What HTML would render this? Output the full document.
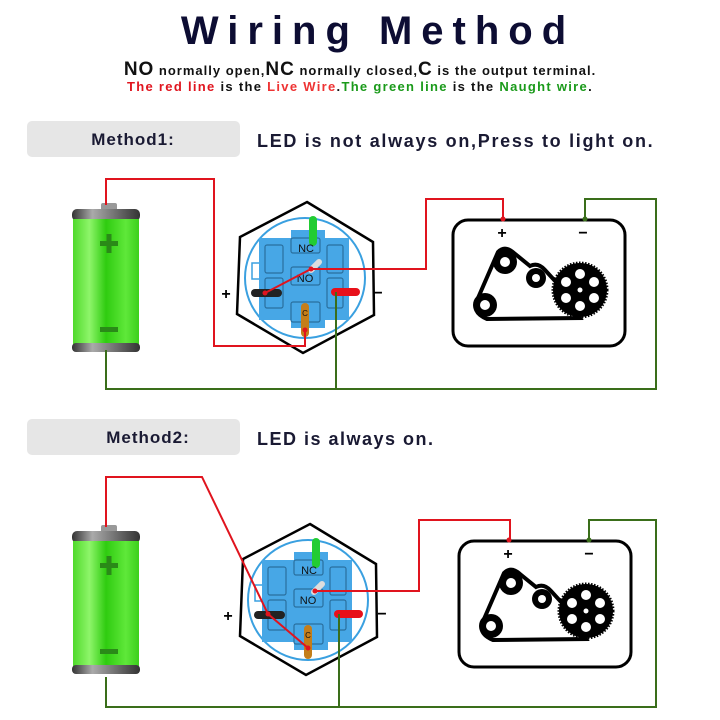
<!DOCTYPE html>
<html><head><meta charset="utf-8"><style>
html,body{margin:0;padding:0;background:#fff;}
svg{display:block;font-family:"Liberation Sans",sans-serif;}
</style></head><body>
<svg width="720" height="720" viewBox="0 0 720 720" xmlns="http://www.w3.org/2000/svg">
<defs>
<linearGradient id="bg" x1="0" x2="1" y1="0" y2="0">
<stop offset="0" stop-color="#4fd92a"/><stop offset="0.25" stop-color="#8ef56a"/><stop offset="0.5" stop-color="#2fcc10"/><stop offset="0.8" stop-color="#5fe83a"/><stop offset="1" stop-color="#3ccf1c"/>
</linearGradient>
<linearGradient id="cg" x1="0" x2="1" y1="0" y2="0">
<stop offset="0" stop-color="#333"/><stop offset="0.3" stop-color="#aaa"/><stop offset="0.6" stop-color="#777"/><stop offset="1" stop-color="#333"/>
</linearGradient>
<g id="bat">
<rect x="29" y="-2" width="16" height="8" rx="2" fill="#999"/>
<rect x="0" y="4" width="68" height="12" rx="5" fill="url(#cg)"/>
<rect x="1" y="14" width="66" height="126" fill="url(#bg)"/>
<rect x="0" y="138" width="68" height="9" rx="4" fill="url(#cg)"/>
<rect x="28" y="36" width="18" height="5" fill="#2a8a18"/><rect x="34.5" y="29" width="5" height="19" fill="#2a8a18"/>
<rect x="28" y="122" width="18" height="5" fill="#2a8a18"/>
</g>
<g id="sw">
<polygon points="2,-76 68,-36 69,37 -2,75 -68,36 -65,-41" fill="#fff" stroke="#000" stroke-width="2.5"/>
<circle cx="0" cy="0" r="60" fill="none" stroke="#3aa0e0" stroke-width="2"/>
<rect x="-53" y="-15" width="8" height="16" fill="#fff" stroke="#3aa0e0" stroke-width="1.5"/>
<rect x="-46" y="-40" width="90" height="82" fill="#47a7e6"/>
<rect x="-14" y="-48" width="34" height="98" fill="#47a7e6"/>
<g fill="none" stroke="#2a6f9e" stroke-width="1.2">
<rect x="-14" y="-40" width="29" height="15" rx="2"/>
<rect x="-14" y="-11" width="29" height="18" rx="2"/>
<rect x="-14" y="24" width="29" height="20" rx="2"/>
<rect x="-40" y="-33" width="18" height="28" rx="2"/>
<rect x="-40" y="0" width="18" height="30" rx="2"/>
<rect x="22" y="-33" width="16" height="28" rx="2"/>
<rect x="22" y="0" width="16" height="30" rx="2"/>
</g>
<line x1="8" y1="-58" x2="8" y2="-36" stroke="#22cc33" stroke-width="8" stroke-linecap="round"/>
<line x1="-50" y1="15" x2="-27" y2="15" stroke="#222" stroke-width="8" stroke-linecap="round"/>
<line x1="30" y1="14" x2="51" y2="14" stroke="#e8101a" stroke-width="8" stroke-linecap="round"/>
<line x1="0" y1="29" x2="0" y2="55" stroke="#c47e1a" stroke-width="8" stroke-linecap="round"/>
<line x1="6" y1="-8" x2="14" y2="-16" stroke="#ddd" stroke-width="6" stroke-linecap="round"/>
<text x="1" y="-26" font-size="11" text-anchor="middle" fill="#111">NC</text>
<text x="0" y="4" font-size="11" text-anchor="middle" fill="#111">NO</text>
<text x="0" y="38" font-size="8" text-anchor="middle" fill="#111">C</text>
</g>
<g id="mot">
<rect x="453" y="220" width="172" height="126" rx="15" fill="#fff" stroke="#000" stroke-width="3"/>
<text x="502" y="238" font-size="16" text-anchor="middle" font-weight="bold">+</text>
<text x="583" y="238" font-size="16" text-anchor="middle" font-weight="bold">−</text>
<path d="M498,252 Q505,245 514,253 L530,266 Q538,262 545,270 L556,282 L580,318 L487,319 Q470,312 478,298 Z" fill="none" stroke="#000" stroke-width="4"/>
<circle cx="505" cy="262" r="12" fill="#000"/><circle cx="505" cy="262" r="5" fill="#fff"/>
<circle cx="536" cy="278" r="10" fill="#000"/><circle cx="536" cy="278" r="4" fill="#fff"/>
<circle cx="485" cy="305" r="12" fill="#000"/><circle cx="485" cy="305" r="5" fill="#fff"/>
<circle cx="580" cy="290" r="27" fill="#000" stroke="#000" stroke-width="3" stroke-dasharray="1.5 1.5"/>
<g fill="#fff"><circle cx="580" cy="290" r="2.5"/><circle cx="580" cy="274" r="5"/><circle cx="580" cy="306" r="5"/><circle cx="566" cy="282" r="5"/><circle cx="594" cy="282" r="5"/><circle cx="566" cy="298" r="5"/><circle cx="594" cy="298" r="5"/></g>
</g>
</defs>

<text x="378" y="44" font-size="40" font-weight="bold" text-anchor="middle" fill="#0d0d33" letter-spacing="9">Wiring Method</text>
<text x="360" y="75" font-size="13" font-weight="bold" text-anchor="middle" fill="#111" letter-spacing="1"><tspan font-size="19">NO</tspan> normally open,<tspan font-size="19">NC</tspan> normally closed,<tspan font-size="19">C</tspan> is the output terminal.</text>
<text x="360" y="91" font-size="13" font-weight="bold" text-anchor="middle" letter-spacing="1.3"><tspan fill="#e0141e">The red line</tspan><tspan fill="#111"> is the </tspan><tspan fill="#ee3333">Live Wire</tspan><tspan fill="#111">.</tspan><tspan fill="#1a9a1a">The green line</tspan><tspan fill="#111"> is the </tspan><tspan fill="#1a9a1a">Naught wire</tspan><tspan fill="#111">.</tspan></text>

<rect x="27" y="121" width="213" height="36" rx="5" fill="#e6e6e6"/>
<text x="133" y="145" font-size="17" font-weight="bold" text-anchor="middle" fill="#1a1a33" letter-spacing="1">Method1:</text>
<text x="257" y="147" font-size="18" font-weight="bold" fill="#1a1a33" letter-spacing="1.7">LED is not always on,Press to light on.</text>
<rect x="27" y="419" width="213" height="36" rx="5" fill="#e6e6e6"/>
<text x="148" y="443" font-size="17" font-weight="bold" text-anchor="middle" fill="#1a1a33" letter-spacing="1">Method2:</text>
<text x="257" y="445" font-size="18" font-weight="bold" fill="#1a1a33" letter-spacing="1.5">LED is always on.</text>

<!-- Method 1 -->
<use href="#bat" x="72" y="205"/>
<use href="#sw" transform="translate(305,278)"/>
<use href="#mot"/>
<g fill="none" stroke-width="2">
<polyline points="106,205 106,179 214,179 214,346 305,346 305,330" stroke="#e0141e"/>
<polyline points="265,293 311,269 426,269 426,199 503,199 503,219" stroke="#e0141e"/>
<polyline points="106,350 106,389 656,389 656,199 585,199 585,219" stroke="#3a6e1a"/>
<polyline points="336,292 336,389" stroke="#3a6e1a"/>
</g>
<circle cx="503" cy="219" r="2.5" fill="#e0141e"/><circle cx="585" cy="219" r="2.5" fill="#3a6e1a"/>
<circle cx="305" cy="330" r="2.5" fill="#e0141e"/><circle cx="311" cy="269" r="2.5" fill="#e0141e"/><circle cx="265" cy="293" r="2.5" fill="#e0141e"/>
<text x="226" y="299" font-size="16" font-weight="bold" text-anchor="middle">+</text>
<text x="378" y="298" font-size="16" font-weight="bold" text-anchor="middle">−</text>

<!-- Method 2 -->
<use href="#bat" x="72" y="527"/>
<use href="#sw" transform="translate(308,600)"/>
<use href="#mot" transform="translate(6,321)"/>
<g fill="none" stroke-width="2">
<polyline points="106,527 106,477 202,477 268,614 308,648" stroke="#e0141e"/>
<polyline points="315,591 419,591 419,520 510,520 510,540" stroke="#e0141e"/>
<polyline points="106,677 106,707 656,707 656,520 589,520 589,540" stroke="#3a6e1a"/>
<polyline points="339,614 339,707" stroke="#3a6e1a"/>
</g>
<circle cx="509" cy="540" r="2.5" fill="#e0141e"/><circle cx="589" cy="540" r="2.5" fill="#3a6e1a"/>
<circle cx="308" cy="648" r="2.5" fill="#e0141e"/><circle cx="315" cy="591" r="2.5" fill="#e0141e"/><circle cx="268" cy="614" r="2.5" fill="#e0141e"/>
<text x="228" y="621" font-size="16" font-weight="bold" text-anchor="middle">+</text>
<text x="382" y="619" font-size="16" font-weight="bold" text-anchor="middle">−</text>
</svg>
</body></html>
